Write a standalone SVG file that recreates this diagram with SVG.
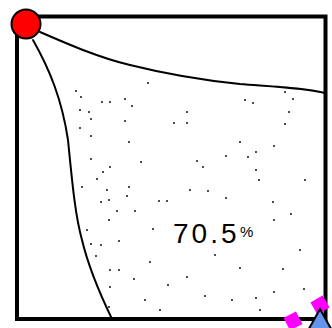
<svg xmlns="http://www.w3.org/2000/svg" width="332" height="328" viewBox="0 0 332 328">
<style>
.edge{fill:none;stroke:#000;stroke-width:2;stroke-linecap:round}
.dot circle{fill:#000;r:0.95px}
.mk{fill:#ff00ff}
</style>
<rect width="332" height="328" fill="#fff"/>
<g id="frame"><rect x="17" y="16.5" width="308.5" height="302.5" fill="none" stroke="#000" stroke-width="4"/></g>
<g id="stipple" class="dot">
<circle cx="76" cy="91" r="1"/><circle cx="81" cy="97" r="1"/><circle cx="102" cy="102" r="1"/><circle cx="110" cy="102" r="1"/><circle cx="125" cy="99" r="1"/><circle cx="132" cy="106" r="1"/><circle cx="148" cy="83" r="1"/><circle cx="80" cy="110" r="1"/><circle cx="89" cy="112" r="1"/><circle cx="91" cy="119" r="1"/><circle cx="125" cy="121" r="1"/><circle cx="187" cy="112" r="1"/><circle cx="174" cy="123" r="1"/><circle cx="187" cy="123" r="1"/><circle cx="80" cy="128" r="1"/><circle cx="91" cy="136" r="1"/><circle cx="129" cy="142" r="1"/><circle cx="91" cy="159" r="1"/><circle cx="141" cy="162" r="1"/><circle cx="197" cy="161" r="1"/><circle cx="110" cy="167" r="1"/><circle cx="103" cy="172" r="1"/><circle cx="97" cy="179" r="1"/><circle cx="82" cy="187" r="1"/><circle cx="129" cy="187" r="1"/><circle cx="107" cy="190" r="1"/><circle cx="190" cy="190" r="1"/><circle cx="127" cy="196" r="1"/><circle cx="109" cy="200" r="1"/><circle cx="101" cy="202" r="1"/><circle cx="159" cy="201" r="1"/><circle cx="167" cy="201" r="1"/><circle cx="117" cy="211" r="1"/><circle cx="135" cy="211" r="1"/>
<circle cx="285" cy="92" r="1"/><circle cx="293" cy="99" r="1"/><circle cx="245" cy="100" r="1"/><circle cx="253" cy="103" r="1"/><circle cx="289" cy="112" r="1"/><circle cx="285" cy="124" r="1"/><circle cx="240" cy="142" r="1"/><circle cx="274" cy="146" r="1"/><circle cx="256" cy="152" r="1"/><circle cx="226" cy="156" r="1"/><circle cx="248" cy="157" r="1"/><circle cx="203" cy="167" r="1"/><circle cx="256" cy="170" r="1"/><circle cx="259" cy="180" r="1"/><circle cx="208" cy="191" r="1"/><circle cx="226" cy="198" r="1"/><circle cx="273" cy="202" r="1"/><circle cx="274" cy="220" r="1"/><circle cx="291" cy="214" r="1"/>
<circle cx="87" cy="230" r="1"/><circle cx="91" cy="244" r="1"/><circle cx="101" cy="245" r="1"/><circle cx="119" cy="241" r="1"/><circle cx="96" cy="256" r="1"/><circle cx="110" cy="270" r="1"/><circle cx="119" cy="270" r="1"/><circle cx="134" cy="279" r="1"/><circle cx="110" cy="287" r="1"/><circle cx="109" cy="307" r="1"/><circle cx="109" cy="220" r="1"/><circle cx="153" cy="229" r="1"/><circle cx="187" cy="277" r="1"/>
<circle cx="283" cy="269" r="1"/><circle cx="274" cy="292" r="1"/><circle cx="304" cy="289" r="1"/><circle cx="256" cy="298" r="1"/>
<circle cx="150" cy="262" r="1"/><circle cx="168" cy="285" r="1"/><circle cx="205" cy="296" r="1"/><circle cx="232" cy="300" r="1"/><circle cx="145" cy="300" r="1"/><circle cx="240" cy="268" r="1"/><circle cx="215" cy="255" r="1"/><circle cx="300" cy="250" r="1"/><circle cx="305" cy="180" r="1"/><circle cx="160" cy="310" r="1"/><circle cx="260" cy="310" r="1"/>
</g>
<g id="connectors">
<path class="edge" d="M40,32 C70,45 100,58 130,65 C170,75 200,80 240,84 C280,87 305,88 325,93"/>
<path class="edge" d="M33,40 C50,70 62,100 68,140 C72,180 75,215 82,240 C88,265 98,290 112,319"/>
</g>
<g id="label"><text x="173" y="243" font-family="Liberation Sans, Arial, sans-serif" font-size="28" letter-spacing="3" fill="#000">70.5</text><text x="240" y="237" font-family="Liberation Sans, Arial, sans-serif" font-size="15" fill="#000">%</text></g>
<g id="source"><circle cx="26" cy="24" r="14.5" fill="#ff0000" stroke="#000" stroke-width="2"/></g>
<g id="markers">
<rect class="mk" x="-7" y="-7" width="14" height="14" transform="translate(293,321) rotate(-28)"/>
<rect class="mk" x="-7" y="-7" width="14" height="14" transform="translate(320,305) rotate(-30)"/>
<polygon points="320,309 306,334 334,334" fill="#6495ed" stroke="#000" stroke-width="2" stroke-linejoin="miter"/>
</g>
</svg>
